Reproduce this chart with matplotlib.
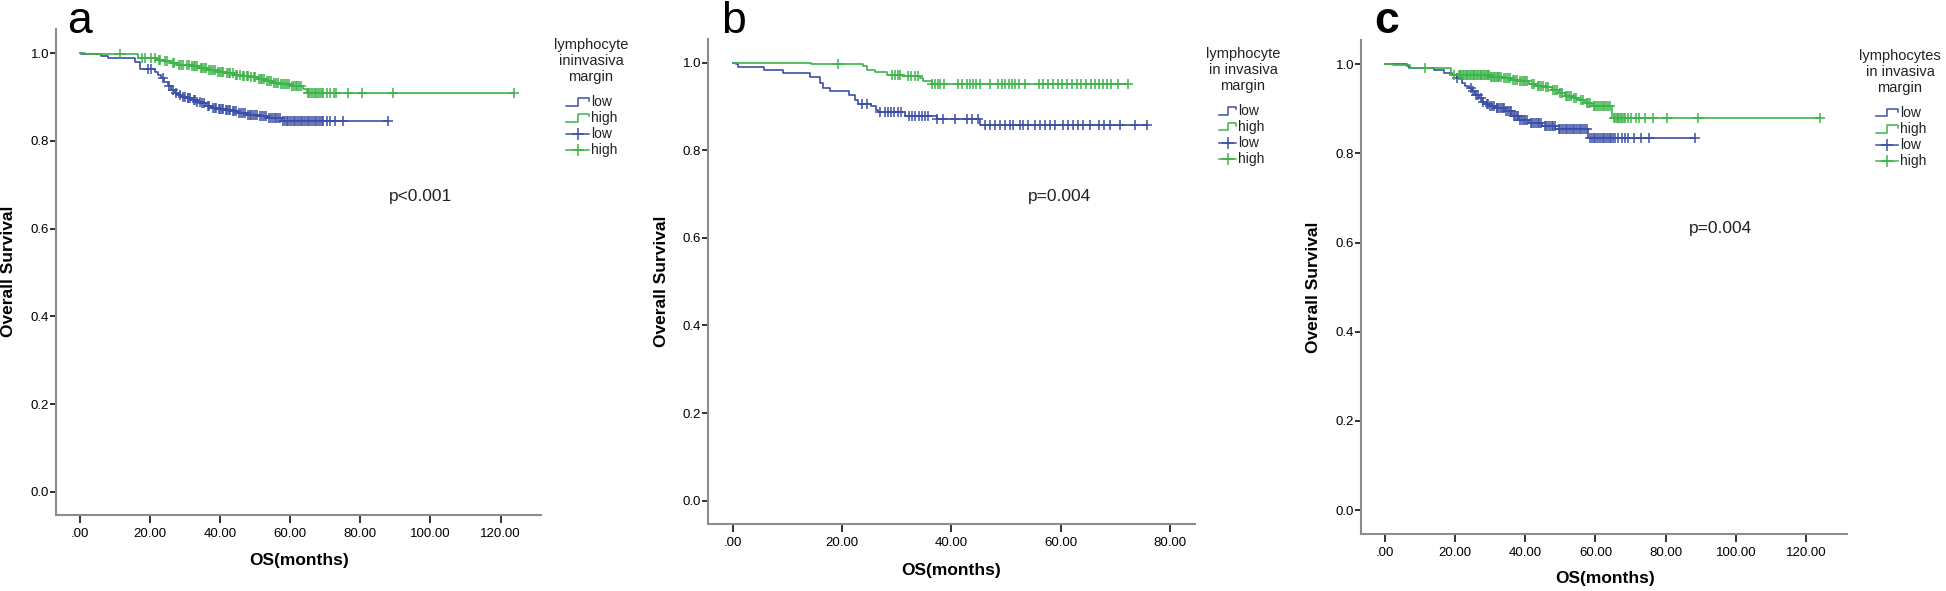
import numpy as np
import matplotlib
matplotlib.use("Agg")
import matplotlib.pyplot as plt
from matplotlib.lines import Line2D

plt.rcParams['font.family'] = ['Liberation Sans', 'DejaVu Sans']

# ---------------- data ----------------
# panel a
a_low_t = [0.5, 6.2, 8.1, 15.7, 17.1, 21.4, 22.5, 23.3, 24.2, 25.2, 26.1, 27.1, 28.0, 29.0,
           30.4, 31.8, 33.2, 34.7, 36.0, 37.5, 39.5, 41.3, 43.2, 45.1, 47.5, 50.8, 53.5, 57.6]
a_low_s = [0.998, 0.9935, 0.9885, 0.979, 0.964, 0.958, 0.951, 0.943, 0.934, 0.924, 0.916, 0.909,
           0.905, 0.901, 0.897, 0.893, 0.889, 0.886, 0.880, 0.875, 0.873, 0.871, 0.867, 0.863,
           0.859, 0.856, 0.851, 0.845]
a_low_cens = [19.5, 20.4, 23.8, 25.6, 26.5, 27.5, 28.5, 29.5, 30, 30.8, 31, 31.6, 32.5, 33,
              33.5, 34.2, 35, 35.6, 36.5, 37, 38, 38.6, 39, 39.8, 40, 40.6, 41, 41.8, 42, 42.6,
              43, 43.8, 44, 44.6, 45.5, 46, 46.5, 47.2, 48, 48.6, 49, 49.5, 50, 50.6, 51.5, 52,
              52.5, 53.2, 54, 54.6, 55, 55.6, 56, 56.6, 57, 58, 58.5, 59, 59.5, 60, 60.5, 61,
              61.5, 62, 62.5, 63, 63.5, 64, 64.5, 65, 65.5, 66, 66.5, 67, 67.5, 68, 68.5, 69,
              69.5, 70.4, 71.4, 72.8, 75.2, 88.0]
a_high_t = [1.5, 16.8, 20, 22.2, 24, 26.1, 28, 30, 31.8, 34, 36.5, 39, 41.3, 44, 46, 48.5, 50.8,
            53, 55, 57.1, 60, 63.7, 64.7]
a_high_s = [0.998, 0.990, 0.988, 0.985, 0.981, 0.977, 0.974, 0.972, 0.970, 0.966, 0.962, 0.958,
            0.954, 0.950, 0.947, 0.945, 0.940, 0.936, 0.933, 0.929, 0.925, 0.918, 0.909]
a_high_cens = [11.4, 17.7, 18.6, 20.5, 21.5, 22.6, 23, 24.4, 25, 26.5, 27, 28.4, 29, 29.6, 30.5,
               31.2, 32, 32.5, 33, 33.5, 34.5, 35, 35.6, 36, 37, 37.6, 38, 38.6, 39.5, 40,
               40.6, 41, 42, 42.5, 43, 43.6, 44.5, 45, 45.6, 46.5, 47, 47.6, 48, 49, 49.6, 50,
               51, 51.6, 52, 52.6, 53.5, 54, 54.6, 55.5, 56, 56.6, 57.5, 58, 58.6, 59, 59.6,
               60.5, 61, 61.6, 62, 62.6, 63, 65.2, 65.5, 66, 66.5, 67, 67.5, 68, 68.5, 69, 69.5,
               70.5, 71.5, 72.5, 73.2, 76.6, 80.4, 89.4, 123.9]

# panel b
b_low_t = [0.56, 1.06, 5.8, 9.3, 14.1, 16.0, 16.6, 17.8, 21.2, 22.4, 23.0, 25.4, 26.3, 26.6,
           31.5, 37.3, 45.2]
b_low_s = [0.996, 0.989, 0.983, 0.975, 0.968, 0.953, 0.941, 0.934, 0.926, 0.915, 0.905, 0.900,
           0.892, 0.886, 0.879, 0.872, 0.857]
b_low_cens = [23.6, 24.5, 27.0, 27.8, 28.4, 29.0, 29.6, 30.2, 30.8, 32.2, 32.8, 33.4, 34.0, 34.6,
              35.2, 35.8, 37.3, 38.5, 40.7, 42.8, 43.7, 44.9, 46.1, 47.0, 47.9, 48.9, 49.8, 50.7,
              51.3, 52.5, 53.1, 54.0, 55.3, 56.2, 57.1, 58.0, 59.0, 60.5, 61.4, 62.3, 63.2, 64.1,
              65.4, 67.0, 68.0, 69.0, 70.8, 73.5, 75.8]
b_high_t = [14.4, 23.9, 24.5, 26.0, 28.2, 31.0, 34.3, 34.9, 36.4]
b_high_s = [0.996, 0.991, 0.983, 0.979, 0.972, 0.970, 0.964, 0.958, 0.950]
b_high_cens = [19.3, 29.1, 29.7, 30.3, 30.6, 32.1, 32.7, 33.3, 33.9, 36.5, 37.0, 37.5, 38.0, 38.6,
               41.3, 41.9, 42.8, 43.4, 44.0, 44.6, 45.2, 47.0, 48.6, 49.2, 49.8, 50.5, 51.1,
               51.7, 52.3, 53.4, 56.0, 56.8, 57.6, 58.5, 59.5, 60.3, 61.2, 62.0, 63.0, 63.8,
               64.6, 65.5, 66.2, 67.0, 67.7, 68.4, 69.2, 70.5, 72.3]

# panel c
c_low_t = [6.3, 6.8, 13.9, 16.8, 19.1, 20.6, 21.9, 22.9, 23.9, 24.8, 25.8, 26.8, 27.7, 28.7,
           29.6, 31.5, 34.3, 36.2, 38.1, 41.0, 44.8, 48.6, 58.0]
c_low_s = [0.995, 0.991, 0.987, 0.980, 0.976, 0.969, 0.957, 0.952, 0.946, 0.939, 0.931, 0.923,
           0.916, 0.910, 0.905, 0.901, 0.894, 0.883, 0.875, 0.868, 0.862, 0.855, 0.834]
c_low_cens = [20.6, 24.5, 25.2, 26.0, 26.4, 27.5, 28, 29, 29.4, 30, 30.5, 31, 31.8, 32, 32.6, 33,
              33.6, 34, 34.6, 35, 35.6, 36, 36.8, 37, 37.6, 38, 38.6, 39, 39.6, 40, 40.5, 41.5,
              42, 42.5, 43, 43.5, 44, 44.5, 45.5, 46, 46.5, 47, 47.5, 48, 48.5, 49.5, 50, 50.5,
              51, 51.5, 52, 52.5, 53, 53.5, 54, 54.5, 55, 55.5, 56, 56.5, 57, 57.5, 58.5, 59,
              59.5, 60, 60.5, 61, 61.5, 62, 62.5, 63, 63.5, 64, 64.5, 65, 65.5, 66.5, 67.5,
              68.4, 69.4, 71, 73, 75.1, 88.4]
c_high_t = [2.3, 7.3, 18.7, 30, 33.4, 36, 38.1, 41, 43, 45.6, 47.5, 49.5, 51.3, 53.5, 55.1, 57,
            59.0, 64.6]
c_high_s = [0.997, 0.991, 0.975, 0.972, 0.969, 0.965, 0.961, 0.955, 0.951, 0.948, 0.942, 0.935,
            0.928, 0.924, 0.920, 0.912, 0.905, 0.879]
c_high_cens = [11.5, 19.6, 21.0, 21.4, 21.8, 22.2, 22.6, 23.0, 23.4, 23.8, 24.2, 24.6, 25.0,
               25.4, 25.8, 26.2, 26.6, 27.0, 27.4, 27.8, 28.2, 28.6, 29.0, 29.4, 29.8, 30.2,
               30.6, 31.0, 31.4, 31.8, 32.2, 32.6, 33.0, 34, 34.5, 35, 35.6, 36.5, 37, 37.5,
               38.5, 39, 39.5, 40, 40.6, 42, 42.5, 43.5, 44, 44.5, 45, 46, 46.6, 48, 48.6, 49,
               50, 50.5, 51.6, 52, 52.5, 53, 54, 54.5, 56, 56.5, 57.5, 58, 58.5, 59.5, 60, 60.5,
               61, 61.5, 62, 62.5, 63, 63.5, 64, 65.2, 65.6, 66, 66.4, 66.8, 67.2, 67.6, 68,
               68.4, 69.2, 70, 71.5, 72.5, 74.1, 76.5, 80.3, 89.3, 124.0]

panel_letters = ['a', 'b', 'c']
legend_titles = [['lymphocyte', 'ininvasiva', 'margin'],
                 ['lymphocyte', 'in invasiva', 'margin'],
                 ['lymphocytes', 'in invasiva', 'margin']]
group_labels = ['low', 'high']
p_texts = ['p<0.001', 'p=0.004', 'p=0.004']
a_xticks = [0, 20, 40, 60, 80, 100, 120]
b_xticks = [0, 20, 40, 60, 80]
yticks = [0.0, 0.2, 0.4, 0.6, 0.8, 1.0]

BLUE = '#3b4fa5'
GREEN = '#3cb44a'
W, H = 1946, 591

fig = plt.figure(figsize=(W / 100, H / 100), dpi=100)


def fx(px):
    return px / W


def fy(py):
    return 1 - py / H


def km(ax, t, s, cens, color):
    t = np.asarray(t)
    s = np.asarray(s)
    cens = np.asarray(cens)
    end = max(t.max(), cens.max())
    xs = np.concatenate([[0], t, [end]])
    ys = np.concatenate([[1.0], s, [s[-1]]])
    ax.step(xs, ys, where='post', color=color, lw=1.2)
    idx = np.searchsorted(t, cens, side='right') - 1
    cy = np.where(idx >= 0, s[np.clip(idx, 0, None)], 1.0)
    ax.plot(cens, cy, ls='none', marker='+', ms=7, mew=1.1, color=color)


def style(ax, xlim, ylim, xt):
    ax.set_xlim(*xlim)
    ax.set_ylim(*ylim)
    for sp in ['top', 'right']:
        ax.spines[sp].set_visible(False)
    for sp in ['left', 'bottom']:
        ax.spines[sp].set_color('#8c8c8c')
        ax.spines[sp].set_linewidth(1.5)
    ax.set_xticks(xt)
    ax.set_xticklabels(['.00' if v == 0 else '%.2f' % v for v in xt])
    ax.set_yticks(yticks)
    ax.set_yticklabels(['%.1f' % v for v in yticks])
    ax.tick_params(axis='x', length=5.5, width=1.3, color='#222222', labelsize=9.5, pad=4)
    ax.tick_params(axis='y', length=4, width=1.3, color='#222222', labelsize=9.5, pad=1)
    ax.patch.set_alpha(0)


def legend(title_lines, title_cx, title_ys, hx0, hx1, text_x, entry_ys):
    for line, yy in zip(title_lines, title_ys):
        fig.text(fx(title_cx), fy(yy), line, ha='center', va='center', fontsize=10.5,
                 color='#222222')
    hm = (hx0 + hx1) / 2
    cols = [BLUE, GREEN, BLUE, GREEN]
    labs = group_labels + group_labels
    for i, (yy, c, lab) in enumerate(zip(entry_ys, cols, labs)):
        if i < 2:
            xs = [hx0, hm, hm, hx1, hx1]
            ys = [yy + 3.5, yy + 3.5, yy - 4.5, yy - 4.5, yy - 1.5]
            fig.add_artist(Line2D([fx(v) for v in xs], [fy(v) for v in ys], color=c, lw=1.1))
        else:
            fig.add_artist(Line2D([fx(hx0), fx(hx1)], [fy(yy), fy(yy)], color=c, lw=1.1))
            fig.add_artist(Line2D([fx(hm)], [fy(yy)], marker='+', ms=8, mew=1.1, color=c))
        fig.text(fx(text_x), fy(yy), lab, ha='left', va='center', fontsize=10, color='#222222')


# ---------------- panel a ----------------
axa = fig.add_axes([fx(56), fy(515), fx(541.4) - fx(56), fy(29) - fy(515)])
km(axa, a_low_t, a_low_s, a_low_cens, BLUE)
km(axa, a_high_t, a_high_s, a_high_cens, GREEN)
style(axa, (-6.7, 131.6), (-0.053, 1.055), a_xticks)

# ---------------- panel b ----------------
axb = fig.add_axes([fx(708.2), fy(524.3), fx(1194.7) - fx(708.2), fy(39.3) - fy(524.3)])
km(axb, b_low_t, b_low_s, b_low_cens, BLUE)
km(axb, b_high_t, b_high_s, b_high_cens, GREEN)
style(axb, (-4.46, 84.5), (-0.054, 1.053), b_xticks)

# ---------------- panel c ----------------
axc = fig.add_axes([fx(1361), fy(534.3), fx(1847.2) - fx(1361), fy(40) - fy(534.3)])
km(axc, c_low_t, c_low_s, c_low_cens, BLUE)
km(axc, c_high_t, c_high_s, c_high_cens, GREEN)
style(axc, (-6.8, 131.7), (-0.054, 1.054), a_xticks)

# axis titles
for xl, ylab_y, xlab_x, xlab_y in [(9, 271, 299, 560), (661, 281, 951, 570),
                                    (1314, 287, 1605, 579)]:
    fig.text(fx(xl), fy(ylab_y), 'Overall Survival', rotation=90, ha='center', va='center',
             fontsize=12.5, fontweight='bold')
    fig.text(fx(xlab_x), fy(xlab_y), 'OS(months)', ha='center', va='center',
             fontsize=12.5, fontweight='bold')

# panel letters
for lx, ly, lab in zip([67, 721, 1374], [33, 33, 33], panel_letters):
    fig.text(fx(lx), fy(ly), lab, ha='left', va='baseline', fontsize=32,
             fontweight='bold' if lab == 'c' else 'normal')

# p values
for (px, py), txt in zip([(421, 197), (1060, 196), (1721, 229)], p_texts):
    fig.text(fx(px), fy(py), txt, ha='center', va='center', fontsize=12.5, color='#222222')

# legends
legend(legend_titles[0], 591, [45, 61, 77], 566, 589, 591, [102, 118, 134, 150])
legend(legend_titles[1], 1243, [54, 70, 86], 1219, 1236, 1238, [111, 127, 143, 159])
legend(legend_titles[2], 1900, [56, 72, 88], 1876, 1898, 1900, [113, 129, 145, 161])

fig.savefig('out.png', dpi=100)
